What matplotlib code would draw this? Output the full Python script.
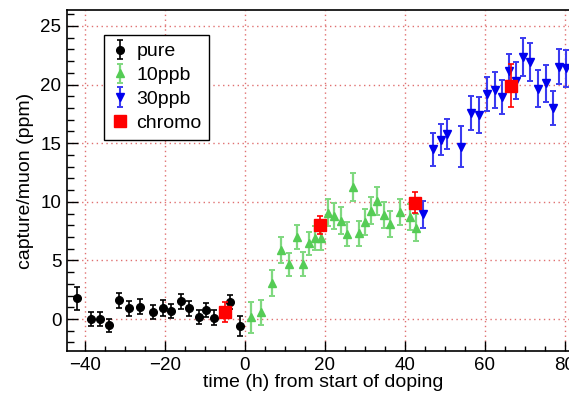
import numpy as np
import matplotlib
matplotlib.use('Agg')
import matplotlib.pyplot as plt
from matplotlib.ticker import MultipleLocator

plt.rcParams['font.family'] = ['Liberation Sans', 'DejaVu Sans']
plt.rcParams['font.size'] = 13

# pure
t_pure = [-41.8, -38.4, -36.1, -33.8, -31.3, -28.9, -26.1, -23.0, -20.4, -18.3,
          -16.0, -13.8, -11.5, -9.6, -7.6, -3.6, -1.1]
y_pure = [1.77, 0.0, 0.0, -0.54, 1.6, 0.9, 1.05, 0.6, 0.95, 0.65,
          1.5, 0.9, 0.2, 0.8, 0.12, 1.42, -0.57]
e_pure = [1.0, 0.6, 0.6, 0.55, 0.65, 0.65, 0.65, 0.6, 0.65, 0.6,
          0.65, 0.6, 0.6, 0.6, 0.65, 0.6, 0.85]

# 10ppb
t_10 = [1.6, 4.0, 6.9, 9.2, 11.2, 13.0, 14.5, 16.1, 17.7, 19.1,
        20.8, 22.4, 24.0, 25.5, 27.0, 28.6, 30.1, 31.7, 33.2, 34.8,
        36.3, 38.8, 41.3, 42.8]
y_10 = [0.14, 0.57, 3.05, 5.9, 4.67, 7.0, 4.7, 6.45, 6.9, 6.9,
        9.07, 8.79, 8.39, 7.25, 11.24, 7.3, 8.25, 9.24, 10.1, 8.87,
        8.08, 9.13, 8.68, 7.8]
e_10 = [1.3, 1.05, 1.1, 1.14, 1.0, 1.05, 1.0, 1.0, 1.05, 1.05,
        1.15, 1.15, 1.15, 1.05, 1.2, 1.05, 1.1, 1.15, 1.2, 1.1,
        1.1, 1.15, 1.1, 1.15]

# 30ppb
t_30 = [44.7, 47.0, 49.0, 50.7, 54.0, 56.6, 58.7, 60.7, 62.5, 64.4,
        66.1, 67.9, 69.6, 71.4, 73.3, 75.3, 77.0, 78.7, 80.4]
y_30 = [8.93, 14.48, 15.3, 15.76, 14.7, 17.6, 17.4, 19.2, 19.54, 18.97,
        21.19, 20.33, 22.33, 21.93, 19.65, 20.11, 17.98, 21.53, 21.39]
e_30 = [1.14, 1.42, 1.31, 1.28, 1.73, 1.45, 1.52, 1.42, 1.56, 1.45,
        1.42, 1.6, 1.62, 1.6, 1.6, 1.6, 1.46, 1.52, 1.56]

# chromo
t_chr = [-4.9, 18.8, 42.5, 66.5]
y_chr = [0.63, 8.05, 9.92, 19.9]
e_chr = [0.85, 0.78, 0.9, 1.85]

fig = plt.figure(figsize=(5.69, 3.96), dpi=100)
# right edge of the frame falls just outside the picture, as in the original
ax = fig.add_axes([0.1178, 0.1136, 0.8990, 0.861])

h1 = ax.errorbar(t_pure, y_pure, yerr=e_pure, fmt='o', color='black', ms=5.5,
                 elinewidth=1.2, capsize=2, capthick=1.2, label='pure', zorder=3)
h2 = ax.errorbar(t_10, y_10, yerr=e_10, fmt='^', color='#55cc55', ecolor='#7fd87f', ms=6,
                 elinewidth=1.6, capsize=2.5, capthick=1.4, label='10ppb', zorder=3)
h3 = ax.errorbar(t_30, y_30, yerr=e_30, fmt='v', color='#0000ee', ecolor='#3a3af0', ms=6,
                 elinewidth=1.5, capsize=2.5, capthick=1.4, label='30ppb', zorder=3)
ax.errorbar(t_chr, y_chr, yerr=e_chr, fmt='none', ecolor='red', elinewidth=1.2,
            capsize=2.5, capthick=1.2, zorder=4)
h4, = ax.plot(t_chr, y_chr, 's', color='red', ms=8.5, label='chromo', zorder=5)

ax.set_xlim(-44.4, 83.5)
ax.set_ylim(-2.73, 26.36)
ax.xaxis.set_major_locator(MultipleLocator(20))
ax.xaxis.set_minor_locator(MultipleLocator(5))
ax.yaxis.set_major_locator(MultipleLocator(5))
ax.yaxis.set_minor_locator(MultipleLocator(1))
ax.tick_params(axis='both', which='both', direction='in', labelsize=13.5, width=1)
ax.tick_params(axis='y', which='major', length=8, pad=4)
ax.tick_params(axis='y', which='minor', length=5)
ax.tick_params(axis='x', which='major', length=7, pad=4)
ax.tick_params(axis='x', which='minor', length=3.5)
for s in ax.spines.values():
    s.set_linewidth(1.2)

ax.grid(True, which='major', color='#e07070', linestyle=(0, (1, 2.5)), linewidth=1)
ax.set_axisbelow(True)

ax.set_xlabel('time (h) from start of doping', fontsize=14, labelpad=0)
ax.set_ylabel('capture/muon (ppm)', fontsize=14, labelpad=5)

leg = ax.legend([h1, h2, h3, h4], ['pure', '10ppb', '30ppb', 'chromo'],
                loc='upper left', bbox_to_anchor=(0.073, 0.927), fancybox=False,
                edgecolor='black', framealpha=1, fontsize=14, borderaxespad=0,
                labelspacing=0.32, handlelength=0.8, handletextpad=0.45,
                borderpad=0.4)
leg.get_frame().set_linewidth(1)

fig.savefig('out.png', dpi=100)
